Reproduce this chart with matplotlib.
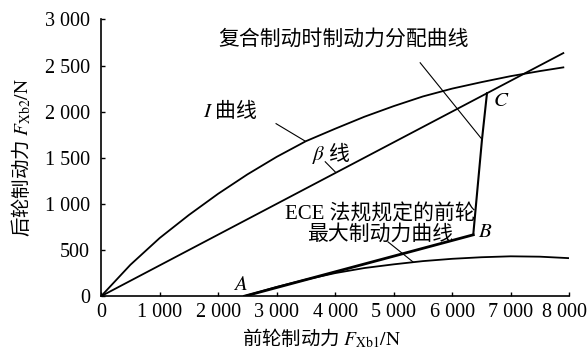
import matplotlib.pyplot as plt
from matplotlib.ticker import FuncFormatter
from matplotlib.transforms import ScaledTranslation

plt.rcParams["font.family"] = ["Liberation Serif", "Noto Sans CJK SC"]
plt.rcParams["mathtext.fontset"] = "stix"

CJK = "Noto Sans CJK SC"

# I curve (ideal distribution)
i_x = [0, 500, 1000, 1500, 2000, 2500, 3000, 3500, 4000, 4500, 5000, 5500, 6000, 6500, 7000, 7500, 7900]
i_y = [0, 340, 630, 880, 1110, 1320, 1510, 1680, 1815, 1945, 2060, 2165, 2250, 2320, 2385, 2440, 2480]

# beta line
beta_x = [0, 7900]
beta_y = [0, 2635]

# ECE front-wheel max braking curve
ece_x = [2450, 3000, 3500, 4000, 4500, 5000, 5500, 6000, 6500, 7000, 7500, 8000]
ece_y = [0, 100, 180, 250, 305, 345, 380, 405, 422, 432, 428, 412]

# composite braking distribution curve A-B-C
comp_x = [2450, 6360, 6510, 6595]
comp_y = [0, 665, 1700, 2200]

x_ticks = [0, 1000, 2000, 3000, 4000, 5000, 6000, 7000, 8000]
y_ticks = [0, 500, 1000, 1500, 2000, 2500, 3000]


def thousands(v, pos):
    return f"{int(v):,}".replace(",", " ")


fig = plt.figure(figsize=(5.88, 3.53), dpi=100)
ax = fig.add_axes([0.172, 0.161, 0.796, 0.784])

lw = 1.3
ax.plot(i_x, i_y, color="black", linewidth=lw)
ax.plot(beta_x, beta_y, color="black", linewidth=lw)
ax.plot(ece_x, ece_y, color="black", linewidth=lw)
ax.plot(comp_x[:2], comp_y[:2], color="black", linewidth=2.0)
ax.plot(comp_x[1:], comp_y[1:], color="black", linewidth=1.5)

# leader lines
ax.plot([2990, 3490], [1870, 1680], color="black", linewidth=0.8)
ax.plot([3830, 4000], [1457, 1348], color="black", linewidth=0.8)
ax.plot([4906, 5333], [587, 370], color="black", linewidth=0.8)
ax.plot([5453, 6510], [2530, 1700], color="black", linewidth=0.8)

# labels
ax.text(1744, 2022, "$I$ 曲线", fontsize=15, ha="left", va="center", family=CJK)
ax.text(3607, 1554, r"$\beta$ 线", fontsize=15, ha="left", va="center", family=CJK)
ax.text(2000, 2780, "复合制动时制动力分配曲线", fontsize=15, ha="left", va="center")
ax.text(4769, 777, "ECE 法规规定的前轮\n最大制动力曲线", fontsize=15,
        ha="center", va="center", linespacing=1.05)
ax.text(2376, 120, "$A$", fontsize=15, ha="center", va="center")
ax.text(6560, 685, "$B$", fontsize=15, ha="center", va="center")
ax.text(6840, 2110, "$C$", fontsize=15, ha="center", va="center")

ax.set_xlim(0, 8000)
ax.set_ylim(0, 3000)
ax.set_xticks(x_ticks)
ax.set_yticks(y_ticks)
ax.xaxis.set_major_formatter(FuncFormatter(thousands))
ax.yaxis.set_major_formatter(FuncFormatter(thousands))
ax.tick_params(direction="in", length=3, labelsize=14.5, width=1)
ax.tick_params(axis="x", pad=5)
ax.tick_params(axis="y", pad=8)
ax.spines["top"].set_visible(False)
ax.spines["right"].set_visible(False)
ax.spines["left"].set_linewidth(1.2)
ax.spines["bottom"].set_linewidth(1.2)

ax.set_xlabel(r"前轮制动力 $F_{\mathrm{Xb1}}/\mathrm{N}$", fontsize=14, labelpad=3, family=CJK)
ax.set_ylabel(r"后轮制动力 $F_{\mathrm{Xb2}}/\mathrm{N}$", fontsize=14, labelpad=8, family=CJK)
ax.xaxis.label.set_x(0.47)

# nudge the last x tick label so it stays inside the figure
last = ax.xaxis.get_major_ticks()[-1].label1
last.set_transform(last.get_transform() + ScaledTranslation(-0.045, 0, fig.dpi_scale_trans))

fig.savefig("out.png", dpi=100)
plt.close(fig)
